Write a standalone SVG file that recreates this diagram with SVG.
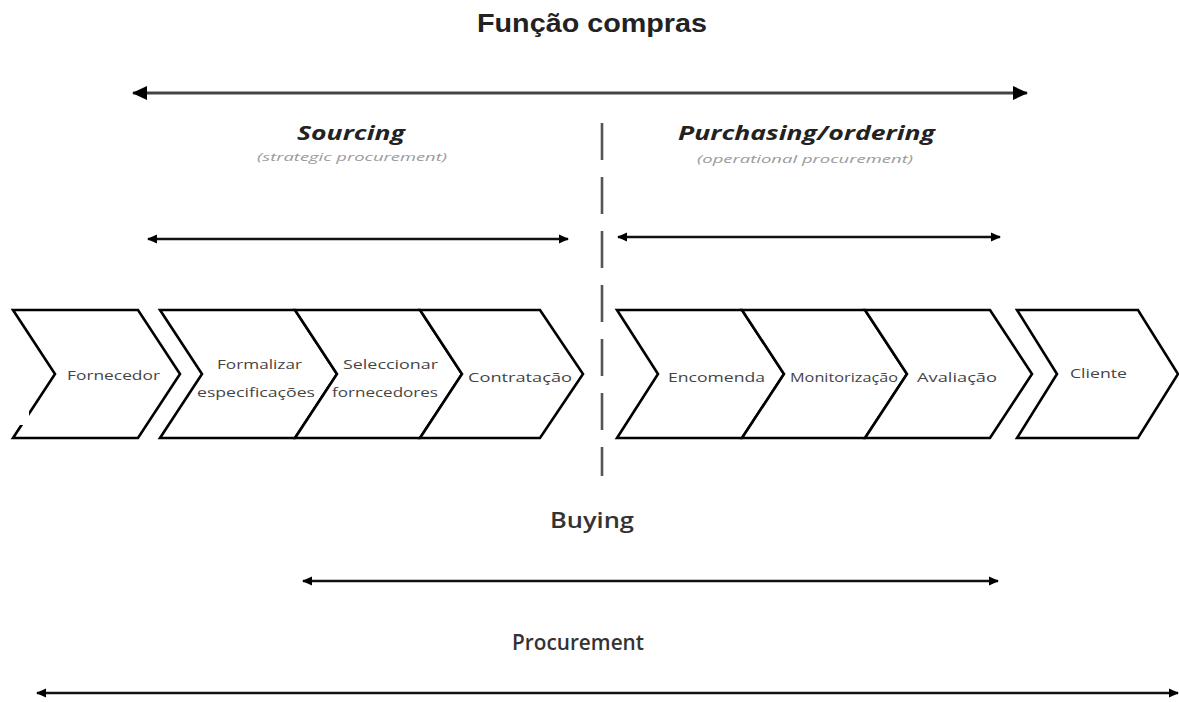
<svg xmlns="http://www.w3.org/2000/svg" width="1179" height="702" viewBox="0 0 1179 702">
<style>
.chev{fill:#fff;stroke:#000;stroke-width:2.6;stroke-linejoin:miter}
.lbl{font-family:"Open Sans","Liberation Sans",sans-serif;font-size:12px;fill:#444}
.head{font-family:"Open Sans","Liberation Sans",sans-serif;font-weight:bold;font-style:italic;font-size:20px;fill:#222;text-anchor:start}
.sub{font-family:"Open Sans","Liberation Sans",sans-serif;font-style:italic;font-size:11px;fill:#9a9a9a}
.big{font-family:"Open Sans","Liberation Sans",sans-serif;font-weight:600;font-size:21px;fill:#333}
.arr{stroke:#111;stroke-width:2.6;fill:none}
</style>
<defs>
<marker id="hs" markerUnits="userSpaceOnUse" markerWidth="12" markerHeight="12" refX="9" refY="5" orient="auto-start-reverse">
<path d="M0,0.5 L10,5 L0,9.5 Z" fill="#000"/>
</marker>
<marker id="hb" markerUnits="userSpaceOnUse" markerWidth="18" markerHeight="14" refX="14" refY="7" orient="auto-start-reverse">
<path d="M0,0 L15,7 L0,14 Z" fill="#000"/>
</marker>
</defs>
<rect width="1179" height="702" fill="#fff"/>

<g id="title">
<text x="477" y="32" font-family="Liberation Sans, Arial, sans-serif" font-weight="bold" font-size="26" fill="#222" textLength="230" lengthAdjust="spacingAndGlyphs">Função compras</text>
</g>

<g id="sourcing-label">
<text class="head" x="297" y="140" textLength="108" lengthAdjust="spacingAndGlyphs">Sourcing</text>
<text class="sub" x="257" y="161" textLength="190" lengthAdjust="spacingAndGlyphs">(strategic procurement)</text>
</g>
<g id="purchasing-label">
<text class="head" x="678" y="140" textLength="257" lengthAdjust="spacingAndGlyphs">Purchasing/ordering</text>
<text class="sub" x="697" y="163" textLength="216" lengthAdjust="spacingAndGlyphs">(operational procurement)</text>
</g>

<g id="divider">
<line x1="602" y1="123" x2="602" y2="476" stroke="#555" stroke-width="2.6" stroke-dasharray="37 17"/>
</g>

<g id="connectors">
<line x1="133" y1="93" x2="1027" y2="93" stroke="#444" stroke-width="3" marker-start="url(#hb)" marker-end="url(#hb)"/>
<line class="arr" x1="148" y1="239" x2="568" y2="239" marker-start="url(#hs)" marker-end="url(#hs)"/>
<line class="arr" x1="618" y1="237" x2="1000" y2="237" marker-start="url(#hs)" marker-end="url(#hs)"/>
<line class="arr" x1="303" y1="581" x2="998" y2="581" marker-start="url(#hs)" marker-end="url(#hs)"/>
<line class="arr" x1="37" y1="693" x2="1178" y2="693" marker-start="url(#hs)" marker-end="url(#hs)"/>
</g>

<g id="fornecedor">
<path class="chev" d="M13,310 L138,310 L180,374 L138,438 L13,438 L55,374 Z"/>
<rect x="0" y="406" width="29" height="19" fill="#fff"/>
<text class="lbl" x="67" y="380" textLength="93" lengthAdjust="spacingAndGlyphs">Fornecedor</text>
</g>
<g id="formalizar">
<path class="chev" d="M160,310 L295,310 L337,374 L295,438 L160,438 L202,374 Z"/>
<text class="lbl" x="217" y="369" textLength="85" lengthAdjust="spacingAndGlyphs">Formalizar</text>
<text class="lbl" x="197" y="397" textLength="118" lengthAdjust="spacingAndGlyphs">especificações</text>
</g>
<g id="seleccionar">
<path class="chev" d="M295,310 L420,310 L462,374 L420,438 L295,438 L337,374 Z"/>
<text class="lbl" x="343" y="369" textLength="95" lengthAdjust="spacingAndGlyphs">Seleccionar</text>
<text class="lbl" x="332" y="397" textLength="106" lengthAdjust="spacingAndGlyphs">fornecedores</text>
</g>
<g id="contratacao">
<path class="chev" d="M420,310 L540,310 L583,374 L540,438 L420,438 L462,374 Z"/>
<text class="lbl" x="468" y="382" textLength="104" lengthAdjust="spacingAndGlyphs">Contratação</text>
</g>
<g id="encomenda">
<path class="chev" d="M617,310 L742,310 L784,374 L742,438 L617,438 L658,374 Z"/>
<text class="lbl" x="668" y="382" textLength="97" lengthAdjust="spacingAndGlyphs">Encomenda</text>
</g>
<g id="monitorizacao">
<path class="chev" d="M742,310 L865,310 L907,374 L865,438 L742,438 L784,374 Z"/>
<text class="lbl" x="790" y="382" textLength="108" lengthAdjust="spacingAndGlyphs">Monitorização</text>
</g>
<g id="avaliacao">
<path class="chev" d="M865,310 L990,310 L1032,374 L990,438 L865,438 L907,374 Z"/>
<text class="lbl" x="917" y="382" textLength="80" lengthAdjust="spacingAndGlyphs">Avaliação</text>
</g>
<g id="cliente">
<path class="chev" d="M1017,310 L1138,310 L1178,374 L1138,438 L1017,438 L1057,374 Z"/>
<text class="lbl" x="1070" y="378" textLength="57" lengthAdjust="spacingAndGlyphs">Cliente</text>
</g>

<g id="buying-label">
<text class="big" x="550" y="528" textLength="84" lengthAdjust="spacingAndGlyphs">Buying</text>
</g>
<g id="procurement-label">
<text class="big" x="512" y="650" textLength="132" lengthAdjust="spacingAndGlyphs">Procurement</text>
</g>
</svg>
